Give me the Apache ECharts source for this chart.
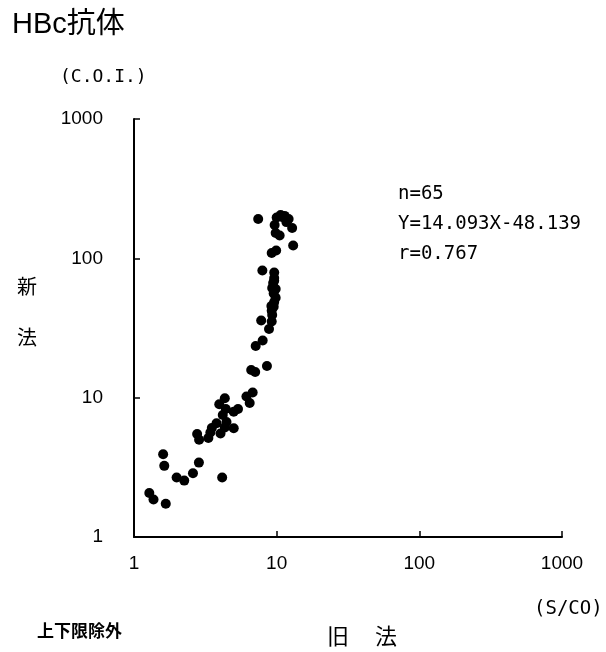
<!DOCTYPE html>
<html>
<head>
<meta charset="utf-8">
<script src="https://cdn.jsdelivr.net/npm/echarts@6/dist/echarts.min.js"></script>
<style>
  html, body { margin: 0; padding: 0; background: #fff; }
  #chart { width: 606px; height: 652px; }
</style>
</head>
<body>
<div id="chart"></div>
<script>
// Old method (S/CO) and new method (C.O.I.) measurements, paired by sample
var oldMethod = [
  7.42, 10.0, 10.66, 11.37, 12.13, 9.68, 12.84, 9.84, 10.49, 13.05,
  9.92, 9.23, 7.94, 9.61, 9.61, 9.45, 9.30, 9.84, 9.84, 9.18,
  9.53, 9.30, 7.79, 9.23, 8.84, 7.98, 7.13, 8.55, 6.63, 7.07,
  6.79, 6.14, 6.47, 4.33, 3.96, 4.40, 5.00, 5.36, 3.79, 4.45,
  4.33, 5.00, 4.04, 3.43, 3.32, 2.77, 2.86, 2.85, 2.59, 2.25,
  1.99, 4.15, 1.60, 1.63, 1.28, 1.37, 1.67,
  10.9, 11.7, 9.61, 9.53, 9.61, 9.23, 4.19, 3.51
];
var newMethod = [
  191.8, 196.6, 204.9, 201.6, 191.8, 173.7, 165.3, 152.2, 146.0, 123.8,
  113.9, 109.3, 81.9, 79.2, 72.3, 66.6, 61.3, 60.3, 52.2, 45.5,
  45.0, 39.2, 35.8, 35.2, 31.1, 25.7, 23.5, 16.9, 15.8, 15.3,
  10.9, 10.2, 9.16, 9.90, 8.97, 8.29, 7.93, 8.29, 6.55, 6.69,
  6.11, 6.03, 5.53, 5.63, 5.14, 5.49, 4.99, 3.42, 2.87, 2.54,
  2.67, 2.67, 3.93, 3.24, 2.07, 1.86, 1.73,
  198, 182, 69, 56, 48.5, 42, 7.5, 6.06
];

// Regression summary shown beside the points
var statLines = ['n=65', 'Y=14.093X-48.139', 'r=0.767'];

var titleText = 'HBc抗体';
var yUnit = '(C.O.I.)';
var xUnit = '(S/CO)';
var yName = ['新', '法'];
var xName = ['旧', '法'];
var footNote = '上下限除外';

var points = oldMethod.map(function (x, i) { return [x, newMethod[i]]; });

var monoFont = '"DejaVu Sans Mono", "Liberation Mono", monospace';
var labelFont = '"Liberation Sans", "Noto Sans CJK JP", sans-serif';
var cjkFont = '"Noto Sans CJK JP", sans-serif';

var chart = echarts.init(document.getElementById('chart'), null, { renderer: 'canvas' });

var axisCommon = {
  type: 'log',
  logBase: 10,
  min: 1,
  max: 1000,
  splitLine: { show: false },
  axisLine: { show: true, onZero: false, lineStyle: { color: '#000', width: 2 } },
  axisTick: { show: true, inside: true, length: 6, lineStyle: { color: '#000', width: 1.5 } },
  axisLabel: {
    color: '#000', fontSize: 19, fontFamily: labelFont,
    formatter: function (v) { return String(Math.round(v)); }
  }
};

var graphics = [
  { type: 'text', left: 12, top: 10,
    style: { text: titleText, fontSize: 29, fontFamily: labelFont, fill: '#000' } },
  { type: 'text', left: 60, top: 68,
    style: { text: yUnit, fontSize: 18, fontFamily: monoFont, fill: '#000' } },
  { type: 'text', left: 17, top: 276,
    style: { text: yName[0], fontSize: 20, fontFamily: cjkFont, fill: '#000' } },
  { type: 'text', left: 17, top: 327,
    style: { text: yName[1], fontSize: 20, fontFamily: cjkFont, fill: '#000' } },
  { type: 'text', left: 534, top: 600,
    style: { text: xUnit, fontSize: 19, fontFamily: monoFont, fill: '#000' } },
  { type: 'text', left: 327, top: 625,
    style: { text: xName[0], fontSize: 22, fontFamily: cjkFont, fill: '#000' } },
  { type: 'text', left: 375, top: 625,
    style: { text: xName[1], fontSize: 22, fontFamily: cjkFont, fill: '#000' } },
  { type: 'text', left: 37, top: 622,
    style: { text: footNote, fontSize: 17, fontWeight: 'bold', fontFamily: cjkFont, fill: '#000' } }
];
statLines.forEach(function (line, i) {
  graphics.push({ type: 'text', left: 398, top: 185 + i * 30,
    style: { text: line, fontSize: 19, fontFamily: monoFont, fill: '#000' } });
});

chart.setOption({
  animation: false,
  backgroundColor: '#fff',
  grid: { left: 134, right: 44, top: 119, bottom: 115, containLabel: false },
  xAxis: Object.assign({}, axisCommon, {
    axisLabel: Object.assign({}, axisCommon.axisLabel, { margin: 17 })
  }),
  yAxis: Object.assign({}, axisCommon, {
    axisLabel: Object.assign({}, axisCommon.axisLabel, { margin: 31 })
  }),
  graphic: graphics,
  series: [{
    type: 'scatter',
    data: points,
    symbol: 'circle',
    symbolSize: 10,
    itemStyle: { color: '#000', opacity: 1 }
  }]
});
</script>
</body>
</html>
